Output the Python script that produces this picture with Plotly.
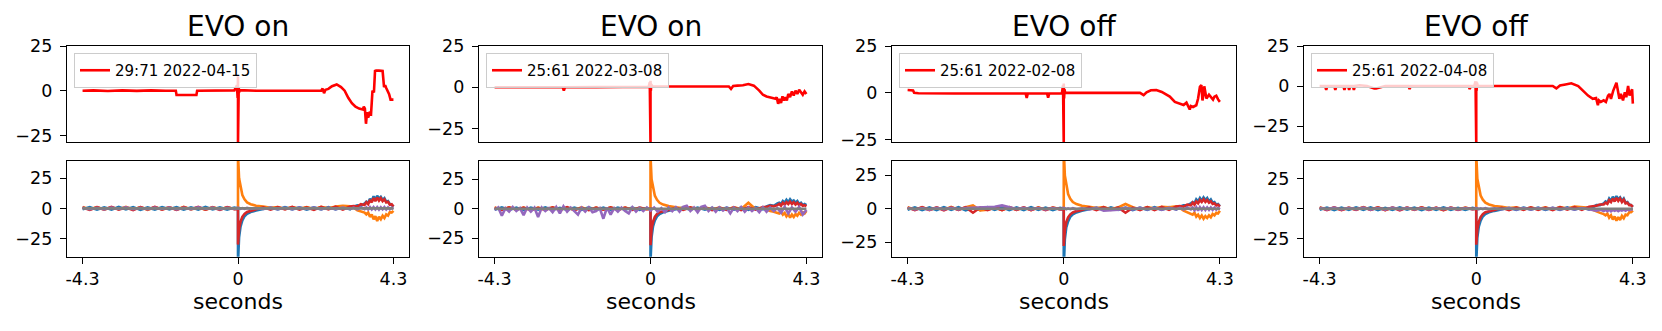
import plotly.graph_objects as go

# ---------------- text / ticks ----------------
TITLES = ["EVO on", "EVO on", "EVO off", "EVO off"]
LEGEND_LABELS = ["29:71 2022-04-15", "25:61 2022-03-08", "25:61 2022-02-08", "25:61 2022-04-08"]
X_TICK_VALS = [-4.3, 0, 4.3]
X_TICK_TEXT = ["-4.3", "0", "4.3"]
Y_TICK_VALS = [-25, 0, 25]
Y_TICK_TEXT = ["\u221225", "0", "25"]
X_LABEL = "seconds"

TOP_RANGES = [[-28.7, 25], [-33.1, 25], [-26.2, 25], [-35, 25]]
BOT_RANGES = [[-40, 39.5], [-40.7, 40.7], [-36, 36], [-40, 40]]
X_RANGE = [-4.73, 4.73]

# ---------------- top row (red trace) ----------------
TOP1_T = [-4.3, -4.0, -3.6, -3.2, -2.8, -2.4, -2.0, -1.72, -1.70, -1.15, -1.13, -0.8, -0.4, -0.1,
          -0.03, -0.01, 0.0, 0.0, 0.005, 0.01, 0.02, 0.03, 0.05, 0.5, 1.0, 1.5, 2.0, 2.3, 2.34,
          2.38, 2.42, 2.5, 2.6, 2.73, 2.85, 2.95, 3.05, 3.15, 3.25, 3.35, 3.45, 3.48, 3.51, 3.54,
          3.57, 3.6, 3.64, 3.68, 3.72, 3.76, 3.79, 3.82, 3.9, 4.0, 4.04, 4.07, 4.1, 4.14, 4.18,
          4.22, 4.25, 4.3]
TOP1_V = [0, 0.2, -0.2, 0.2, -0.1, 0.2, 0, 0, -2.4, -2.4, 0, 0.1, 0, 0.2,
          3, -4, 8, -29, 5, -3, 2, -1, 0.3, 0, 0, 0, 0, 0, 1.2,
          -1.4, 0.5, 1, 2.5, 3.5, 2, 0, -4, -7, -9, -10, -10.5, -9, -10, -18.5,
          -12, -15, -12.5, -13, 0, -1, 11, 11.2, 11.2, 11, 2, 3, 1.5, 0, -2,
          -5, -5, -5]

TOP2_T = [-4.3, -3.5, -2.42, -2.39, -2.36, -1.5, -0.5, -0.05, -0.02, 0.0, 0.0, 0.01, 0.02, 0.04,
          0.5, 1.2, 2.1, 2.16, 2.22, 2.28, 2.4, 2.55, 2.7, 2.85, 3.0, 3.1, 3.2, 3.35, 3.45, 3.48,
          3.52, 3.56, 3.6, 3.64, 3.68, 3.72, 3.76, 3.8, 3.85, 3.9, 3.95, 4.0, 4.05, 4.1, 4.15,
          4.2, 4.25, 4.3]
TOP2_V = [0, 0, 0, -2, 0, 0.1, 0.2, 0.3, 3, -34, 4, -2, 2, 0.5,
          0.5, 0.5, 0.5, 0.5, -1, 0.8, 1, 1.2, 2, 1, -2, -4.5, -5.5, -6.5, -7, -6,
          -10, -7, -9.5, -5.5, -8, -6, -8, -4, -6, -2.5, -5, -2, -4, -1.5, -3,
          -4.5, -2.5, -4]

TOP3_T = [-4.3, -4.15, -4.12, -4.0, -3.0, -1.05, -1.02, -0.99, -0.46, -0.43, -0.40, -0.05, -0.02,
          0.0, 0.0, 0.01, 0.02, 0.04, 0.6, 1.3,
          2.1, 2.2, 2.28, 2.4, 2.55, 2.7, 2.92, 3.06, 3.2, 3.3, 3.38, 3.47, 3.5, 3.56, 3.65,
          3.7, 3.75, 3.79, 3.82, 3.84, 3.87, 3.9, 3.93, 4.0, 4.05, 4.11, 4.15, 4.2, 4.25, 4.3]
TOP3_V = [1.5, 1.3, 0, -0.2, -0.3, -0.3, -2.7, -0.3, -0.3, -2.5, -0.3, -0.2, 4,
          -27, 5, -3, 2, 0, 0, 0,
          0, -1.2, 0.3, 1.4, 1.5, 0.5, -2, -4.8, -5.7, -6.5, -5.2, -8.9, -7, -7.5, -6.6,
          -3, 3.2, 4.1, -4, -2, 3.5, -1, -3, -1, -2.5, -3.6, -2, -1.5, -3.5, -4.8]

TOP4_T = [-4.3, -4.15, -4.12, -4.09, -3.9, -3.87, -3.84, -3.65, -3.62, -3.59, -3.52, -3.49, -3.46,
          -3.39, -3.36, -3.33, -3.2, -3.0, -2.8, -2.75, -2.5, -1.86, -1.83, -1.8, -0.21, -0.18,
          -0.15, -0.05, -0.02, 0.0, 0.0, 0.01, 0.02, 0.04, 0.6, 1.3, 2.1, 2.2, 2.3, 2.45, 2.61,
          2.8, 3.07, 3.2, 3.29, 3.34, 3.37, 3.42, 3.5, 3.56, 3.62, 3.66, 3.7, 3.76, 3.85, 3.93,
          3.97, 4.03, 4.08, 4.12, 4.17, 4.21, 4.25, 4.28, 4.3]
TOP4_V = [0, 0, -2.5, 0, 0, -2.5, 0, 0, -2.5, 0, 0, -2.5, 0,
          0, -2.5, 0, 0.5, 0, -1.5, -1.5, 0, 0, -2, 0, 0, -2,
          0, 0.2, 3, -36, 3, -3, 2, 0, 0, 0, 0, -1.5, 0.3, 1, 1.7,
          0, -6, -8, -7.5, -12, -9, -10, -9, -10, -6, -5, -8, -3, 2, -8,
          -5, -9, -4, -7, 0, -6, -3, -2, -11]

# ---------------- bottom row (5 channels) ----------------
T_BOT = [-4.3, -4.1, -3.9, -3.7, -3.5, -3.3, -3.1, -2.9, -2.7, -2.5, -2.3, -2.1, -1.9, -1.7,
         -1.5, -1.3, -1.1, -0.9, -0.7, -0.5, -0.3, -0.1,
         0.0, 0.0,
         0.03, 0.07, 0.12, 0.18, 0.25, 0.35, 0.5,
         0.7, 0.9, 1.1, 1.3, 1.5, 1.7, 1.9, 2.1, 2.3, 2.5, 2.7, 2.9, 3.1,
         3.2, 3.3, 3.4, 3.5,
         3.55, 3.6, 3.65, 3.7, 3.75, 3.8, 3.85, 3.9, 3.95, 4.0, 4.05, 4.1, 4.15, 4.2, 4.25, 4.3]
T_GRAY = [-4.3, 4.3]
T_FINE = [-4.3, -4.2, -4.1, -4.0, -3.9, -3.8, -3.7, -3.6, -3.5, -3.4,
          -3.3, -3.2, -3.1, -3.0, -2.9, -2.8, -2.7, -2.6, -2.5, -2.4,
          -2.3, -2.2, -2.1, -2.0, -1.9, -1.8, -1.7, -1.6, -1.5, -1.4,
          -1.3, -1.2, -1.1, -1.0, -0.9, -0.8, -0.7, -0.6, -0.5, -0.4,
          -0.3, -0.2, -0.1, 0.0, 0.1, 0.2, 0.3, 0.4, 0.5, 0.6,
          0.7, 0.8, 0.9, 1.0, 1.1, 1.2, 1.3, 1.4, 1.5, 1.6,
          1.7, 1.8, 1.9, 2.0, 2.1, 2.2, 2.3, 2.4, 2.5, 2.6,
          2.7, 2.8, 2.9, 3.0, 3.1, 3.2, 3.3, 3.4, 3.5, 3.6,
          3.7, 3.8, 3.9, 4.0, 4.1, 4.2, 4.3]

# panel 1
B1_BLUE = [-0.8, 1.0, -1.1, 0.9, -1.0, 1.2, -0.9, 1.1, -1.2, 0.8, -1.0, 1.1, -0.8, 1.0, -1.1, 0.9, -1.0, 1.2, -0.9, 0.8, -1.0, 0.7,
           0, -45,
           -24, -15, -10, -6.5, -4.5, -3, -1.8,
           -0.5, 0.8, -0.9, 1.0, -0.8, 0.9, -1.0, 0.8, -0.9, 1.1, -0.8, 1.2, -0.7,
           1.5, 2.5, 2.0, 4.0,
           5.5, 4.5, 8, 6, 10, 7.5, 10.5, 8, 9.5, 7, 8.5, 5.5, 6, 3.5, 3.0, 1.5]
B1_ORANGE = [1.2, -0.8, 1.0, -1.0, 0.9, -0.7, 1.3, -0.9, 1.1, -1.2, 1.0, -0.8, 0.9, -1.0, 1.2, -0.9, 0.8, -1.1, 1.0, -0.7, 0.9, -0.5,
             0, 45,
             25, 17, 11, 7.5, 5, 3.5, 2.2,
             1.5, 0.5, 1.2, -0.5, 1.0, -0.3, 1.1, -0.6, 1.3, 0.2, 1.5, 2.2, 1.8,
             0.5, -1.5, -2.5, -3.5,
             -5, -3.5, -7, -5, -9, -6.5, -10.5, -7, -9, -6, -8, -5, -6, -3, -3.5, -2]
B1_RED = [0.8, -1.2, 1.0, -0.9, 1.3, -1.1, 0.7, -1.4, 1.1, -0.8, 1.2, -1.0, 0.9, -1.3, 1.0, -0.7, 1.2, -1.1, 0.8, -1.2, 1.0, -0.6,
          0, -30,
          -17, -11, -7, -4.5, -3, -2, -1,
          0.9, -1.1, 1.0, -0.8, 1.2, -1.0, 0.8, -1.2, 1.3, -0.9, 1.4, -1.0, 1.6,
          2.0, 1.5, 3.5, 2.8,
          5, 3.5, 7, 5, 8.5, 6, 9, 6.5, 8.5, 6, 7.5, 5, 5.5, 3, 3.5, 1.5]
B1_PURPLE = [0.6, -0.7, 0.5, -0.8, 0.7, -0.5, 0.8, -0.6, 0.5, -0.7, 0.6, -0.5, 0.7, -0.8, 0.5, -0.6, 0.9, -0.5, 0.6, -0.7, 0.5, -0.4,
             0, 0.5,
             0.3, -0.4, 0.3, -0.3, 0.4, -0.4, 0.3,
             -0.5, 0.6, -0.6, 0.5, -0.7, 0.6, -0.5, 0.7, -0.6, 0.5, -0.7, 0.6, -0.5,
             0.6, -0.7, 0.8, -0.6,
             0.8, -0.9, 1.0, -0.8, 1.1, -0.9, 1.0, -1.0, 0.9, -0.8, 1.0, -0.9, 0.8, -0.7, 0.6, -0.5]

# panel 2
B2_BLUE = [-0.8, 1.1, -1.0, 0.9, -1.2, 1.0, -0.9, 1.1, -1.0, 0.8, -1.1, 1.0, -0.9, 1.2, -1.0, 0.9, -1.1, 1.0, -0.8, 0.9, -1.0, 0.6,
           0, -45,
           -24, -15, -10, -6.5, -4.5, -3, -1.8,
           -0.6, 0.9, -0.8, 1.0, -0.9, 0.8, -1.0, 0.9, -0.8, 1.0, -0.9, 1.3, -0.5,
           2.0, 3.0, 2.5, 4.5,
           5, 4, 6.5, 5, 7.5, 5.5, 8, 6, 7, 5, 6.5, 4, 5, 3, 4, 3]
B2_ORANGE = [1.0, -0.9, 1.2, -0.8, 1.0, -1.1, 0.9, -0.7, 1.2, -1.0, 0.8, -0.9, 1.1, -1.0, 0.9, -0.8, 1.2, -0.9, 1.0, -0.6, 0.8, -0.4,
             0, 45,
             25, 17, 11, 7.5, 5, 3.5, 2.2,
             1.3, 0.3, 1.0, -0.5, 1.2, -0.4, 0.9, -0.7, 1.1, -0.3, 5.0, -0.5, 0.5,
             -1.0, -2.0, -2.5, -3.5,
             -4, -2.5, -5, -3.5, -6.5, -4.5, -7.5, -5, -7, -4.5, -6, -3.5, -5, -3, -4, -2]
B2_RED = [0.9, -1.0, 1.2, -0.8, 1.0, -1.3, 0.7, -1.0, 1.1, -0.9, 1.3, -1.1, 0.8, -1.2, 1.0, -0.8, 1.1, -1.0, 0.9, -1.1, 1.0, -0.5,
          0, -31,
          -17, -11, -7, -4.5, -3, -2, -1,
          0.8, -1.0, 1.1, -0.9, 1.0, -1.2, 0.9, -1.0, 1.2, -1.1, 1.3, -0.8, 1.5,
          1.5, 2.5, 2.0, 3.0,
          4, 2.5, 5, 3.5, 5.5, 4, 6, 4, 5.5, 3.5, 5, 3, 4, 2.5, 3, 2]
# panel 2 purple is much noisier; sampled on the finer T_FINE grid
B2_PURPLE_FINE = [-1.0, 1.0, -6.0, 0.5, -2.5, 1.5, -2.0, 0.5, -5.5, 1.0,
                  -2.5, 0.8, -7.0, 1.0, -2.0, 0.5, -3.0, 1.5, -4.0, 2.0,
                  -2.5, 1.0, -2.0, -5.0, 0.8, -2.5, 1.2, -3.0, -2.0, 0.5,
                  -8.5, 1.0, -5.0, 0.5, -2.5, 1.0, -2.0, -4.0, 1.2, -2.5,
                  0.8, -2.0, 1.0, -1.5, 1.0, -2.5, 0.5, -3.0, 1.0, -2.0,
                  1.2, -2.5, 1.5, 2.5, -2.0, 1.0, -3.0, 1.5, 2.5, -2.0,
                  1.0, -2.5, 1.2, -1.5, 0.8, -4.0, 1.0, -2.0, 1.5, -2.5,
                  1.0, -2.0, 0.5, -3.0, 1.2, -2.5, 1.0, -2.0, 0.5, -3.5,
                  1.5, -4.0, 1.0, -2.5, 1.5, -5.0, -1.0]

# panel 3
B3_BLUE = [-0.8, 1.0, -1.1, 0.9, -1.0, 1.2, -0.9, 1.1, -1.2, 0.8, -1.0, 1.1, -0.8, 1.0, -1.1, 0.9, -1.0, 1.2, -0.9, 0.8, -1.0, 0.7,
           0, -45,
           -23, -14, -9.5, -6, -4.2, -2.8, -1.6,
           -0.5, 0.8, -0.9, 1.0, -0.8, 0.9, -1.0, 0.8, -0.9, 1.1, -0.8, 1.2, -0.7,
           1.5, 2.5, 2.5, 4.0,
           5, 4, 7, 5.5, 8, 6, 8.5, 6.5, 8, 5.5, 7, 4.5, 5, 3, 3.5, 2]
B3_ORANGE = [1.2, -0.8, 1.0, -1.0, 0.9, -0.7, 1.3, -0.9, 1.1, 2.5, -1.2, -0.8, 0.9, -1.0, 1.2, -0.9, 0.8, -1.1, 1.0, -0.7, 0.9, -0.5,
             0, 45,
             25, 17, 11, 7.5, 5, 3.5, 2.2,
             1.5, 0.5, 1.2, -0.5, 1.0, 3.5, 1.1, -0.6, 1.3, 0.2, 1.5, 1.0, 1.8,
             0.5, -1.5, -2.5, -3.5,
             -4.5, -3, -6, -4.5, -7, -5, -7.5, -5.5, -7, -5, -6.5, -4, -5, -3, -3.5, -1.5]
B3_RED = [0.8, -1.0, 1.1, -0.9, 0.9, -1.2, 1.0, -0.8, 1.2, -3.0, 1.0, -1.1, 0.9, -1.0, 1.1, -0.8, 1.0, -1.1, 0.8, -1.0, 0.9, -0.5,
          0, -28,
          -16, -10, -6.5, -4.2, -2.8, -1.8, -1,
          0.9, -1.0, 1.1, -0.9, 1.0, -3.0, 0.8, -1.0, 1.2, -1.1, 1.3, -0.9, 1.6,
          2.0, 1.5, 3.0, 2.5,
          4.5, 3, 5.5, 4, 6.5, 5, 7, 5, 6.5, 4.5, 5.5, 3.5, 4, 2.5, 3, 1.5]
B3_PURPLE = [0.5, -0.6, 0.4, -0.7, 0.6, -0.5, 0.7, -0.5, 0.5, 0.8, 1.3, 1.6, 1.4, 2.5, 1.2, -0.3, 0.6, -0.5, 0.5, -0.6, 0.5, -0.4,
             0, 0.5,
             0.3, -0.4, 0.3, -0.3, 0.4, -0.4, 0.3,
             -0.5, 0.6, -1.5, -1.2, -0.7, 0.6, -0.5, 0.7, -0.6, 0.5, -0.7, 0.6, -0.5,
             0.6, -0.7, 0.8, -0.6,
             0.8, -1.2, 1.0, -1.5, 1.1, -0.9, 1.0, -1.0, 0.9, -0.8, 1.0, -0.9, 0.8, -0.7, 0.6, -0.5]

# panel 4
B4_BLUE = [-0.8, 1.0, -1.1, 0.9, -1.0, 1.2, -0.9, 1.1, -1.2, 0.8, -1.0, 1.1, -0.8, 1.0, -1.1, 0.9, -1.0, 1.2, -0.9, 0.8, -1.0, 0.7,
           0, -45,
           -24, -15, -10, -6.5, -4.5, -3, -1.8,
           -0.5, 0.8, -0.9, 1.0, -0.8, 0.9, -1.0, 0.8, -0.9, 1.1, -0.8, 1.2, -0.7,
           1.5, 3.0, 3.0, 4.5,
           6, 5, 8.5, 6.5, 10, 7.5, 10.5, 8, 9.5, 6.5, 8.5, 5, 5.5, 3.5, 3, 1.5]
B4_ORANGE = [1.2, -0.8, 1.0, -1.0, 0.9, -0.7, 1.3, -0.9, 1.1, -1.2, 1.0, -0.8, 0.9, -1.0, 1.2, -0.9, 0.8, -1.1, 1.0, -0.7, 0.9, -0.5,
             0, 45,
             25, 17, 11, 7.5, 5, 3.5, 2.2,
             1.5, 0.5, 1.2, -0.5, 1.0, -0.3, 1.1, -0.6, 1.3, 0.2, 1.8, 1.5, 0.8,
             -1.0, -2.5, -3.5, -4.5,
             -5.5, -4, -7.5, -5.5, -9, -6.5, -10, -7, -9.5, -6, -8, -5, -5.5, -3, -3, -1.5]
B4_RED = [0.9, -1.1, 1.0, -1.2, 0.8, -1.0, 1.1, -0.9, 1.2, -1.1, 0.9, -1.3, 1.0, -0.8, 1.1, -1.0, 0.9, -1.2, 1.0, -0.9, 0.8, -0.5,
          0, -30,
          -17, -11, -7, -4.5, -3, -2, -1,
          0.8, -1.1, 1.0, -0.9, 1.2, -1.0, 0.9, -1.1, 1.3, -0.8, 1.4, -1.0, 1.7,
          2.0, 2.5, 3.5, 3.5,
          5, 4, 7, 5.5, 8.5, 6, 9, 6.5, 8.5, 5.5, 7.5, 4.5, 5, 3, 3, 1.5]
B4_PURPLE = [0.7, -0.5, 0.9, -0.6, 0.8, -0.5, 1.0, -0.7, 0.6, -0.8, 0.9, -0.5, 0.7, -0.6, 0.5, -0.7, 0.6, -0.5, 0.7, -0.6, 0.5, -0.4,
             0, 0.5,
             0.3, -0.4, 0.3, -0.3, 0.4, -0.4, 0.3,
             -0.5, 0.6, -0.6, 0.5, -0.7, 0.6, -0.5, 0.7, -0.6, 0.5, -0.7, 0.6, -0.5,
             -0.6, -1.7, -0.8, -2.0,
             -1.0, -2.0, -0.8, -2.2, -1.0, -1.8, -0.9, -2.0, -1.0, -1.5, -0.8, -1.7, -0.6, -1.2, -0.5, -0.8]

GRAY_V = [0, 0]

TOP_SERIES = [(TOP1_T, TOP1_V), (TOP2_T, TOP2_V), (TOP3_T, TOP3_V), (TOP4_T, TOP4_V)]
# (time, values) per channel: blue, orange, red, purple
BOT_SERIES = [
    [(T_BOT, B1_BLUE), (T_BOT, B1_ORANGE), (T_BOT, B1_RED), (T_BOT, B1_PURPLE)],
    [(T_BOT, B2_BLUE), (T_BOT, B2_ORANGE), (T_BOT, B2_RED), (T_FINE, B2_PURPLE_FINE)],
    [(T_BOT, B3_BLUE), (T_BOT, B3_ORANGE), (T_BOT, B3_RED), (T_BOT, B3_PURPLE)],
    [(T_BOT, B4_BLUE), (T_BOT, B4_ORANGE), (T_BOT, B4_RED), (T_BOT, B4_PURPLE)],
]
for t, v in TOP_SERIES:
    assert len(t) == len(v), (len(t), len(v))
for grp in BOT_SERIES:
    for t, s in grp:
        assert len(s) == len(t), (len(s), len(t))

# ---------------- styling / layout ----------------
W, H = 1662, 331
FONT = "DejaVu Sans"
BOT_COLORS = ["#1f77b4", "#ff7f0e", "#d62728", "#9467bd"]
GRAY = "#7f7f7f"
LW = 2.6
COL_X = [(67, 409), (479, 822), (892, 1235.5), (1304, 1648.5)]
TOP_Y = (46, 142)
BOT_Y = (160.7, 256.7)


def px_x(p):
    return p / W


def px_y(p):
    return 1 - p / H


fig = go.Figure()
layout = dict(
    width=W, height=H, autosize=False,
    margin=dict(l=0, r=0, t=0, b=0),
    paper_bgcolor="white", plot_bgcolor="white",
    font=dict(family=FONT, color="black"),
    annotations=[],
)

axis_common = dict(showgrid=False, zeroline=False, showline=True, mirror=True,
                   linecolor="black", linewidth=1.4, automargin=False)

for i in range(4):
    xa_top, xa_bot = 2 * i + 1, 2 * i + 2
    x0, x1 = COL_X[i]
    dom_x = [px_x(x0), px_x(x1)]
    ln = "legend" if i == 0 else f"legend{i + 1}"

    # top panel
    t, v = TOP_SERIES[i]
    fig.add_trace(go.Scatter(x=t, y=v, mode="lines", name=LEGEND_LABELS[i],
                             line=dict(color="#ff0000", width=LW),
                             xaxis=f"x{xa_top}", yaxis=f"y{xa_top}",
                             showlegend=True, legend=ln))
    # bottom panel
    for (tt, s), c in zip(BOT_SERIES[i], BOT_COLORS):
        fig.add_trace(go.Scatter(x=tt, y=s, mode="lines", line=dict(color=c, width=LW),
                                 xaxis=f"x{xa_bot}", yaxis=f"y{xa_bot}", showlegend=False))
    fig.add_trace(go.Scatter(x=T_GRAY, y=GRAY_V, mode="lines", line=dict(color=GRAY, width=LW),
                             xaxis=f"x{xa_bot}", yaxis=f"y{xa_bot}", showlegend=False))

    k_t = "" if xa_top == 1 else str(xa_top)
    k_b = str(xa_bot)
    yticks = dict(tickmode="array", tickvals=Y_TICK_VALS, ticktext=Y_TICK_TEXT,
                  ticks="outside", ticklen=6, tickwidth=1.4, tickcolor="black",
                  ticklabelstandoff=4,
                  tickfont=dict(size=17.5, family=FONT, color="black"))
    layout["xaxis" + k_t] = dict(axis_common, domain=dom_x, range=X_RANGE, anchor="y" + k_t,
                                 showticklabels=False, ticks="")
    layout["yaxis" + k_t] = dict(axis_common, domain=[px_y(TOP_Y[1]), px_y(TOP_Y[0])],
                                 range=TOP_RANGES[i], anchor="x" + k_t, **yticks)
    layout["xaxis" + k_b] = dict(axis_common, domain=dom_x, range=X_RANGE, anchor="y" + k_b,
                                 tickmode="array", tickvals=X_TICK_VALS, ticktext=X_TICK_TEXT,
                                 ticks="outside", ticklen=6, tickwidth=1.4, tickcolor="black",
                                 tickfont=dict(size=17.5, family=FONT, color="black"))
    layout["yaxis" + k_b] = dict(axis_common, domain=[px_y(BOT_Y[1]), px_y(BOT_Y[0])],
                                 range=BOT_RANGES[i], anchor="x" + k_b, **yticks)

    layout[ln] = dict(x=px_x(x0 + 7), y=px_y(53), xanchor="left", yanchor="top",
                      bgcolor="rgba(255,255,255,0.8)", bordercolor="#cccccc", borderwidth=1,
                      font=dict(size=15, family=FONT, color="black"),
                      itemwidth=30, tracegroupgap=0)

    cx = (x0 + x1) / 2
    layout["annotations"].append(dict(text=TITLES[i], x=px_x(cx), y=px_y(26), xref="paper",
                                      yref="paper", xanchor="center", yanchor="middle",
                                      showarrow=False, font=dict(size=28, family=FONT, color="black")))
    layout["annotations"].append(dict(text=X_LABEL, x=px_x(cx), y=px_y(301), xref="paper",
                                      yref="paper", xanchor="center", yanchor="middle",
                                      showarrow=False, font=dict(size=22, family=FONT, color="black")))

fig.update_layout(**layout)
fig.write_html("out.html", config={"displayModeBar": False},
               post_script="document.body.style.margin='0px';document.body.style.overflow='hidden';")
